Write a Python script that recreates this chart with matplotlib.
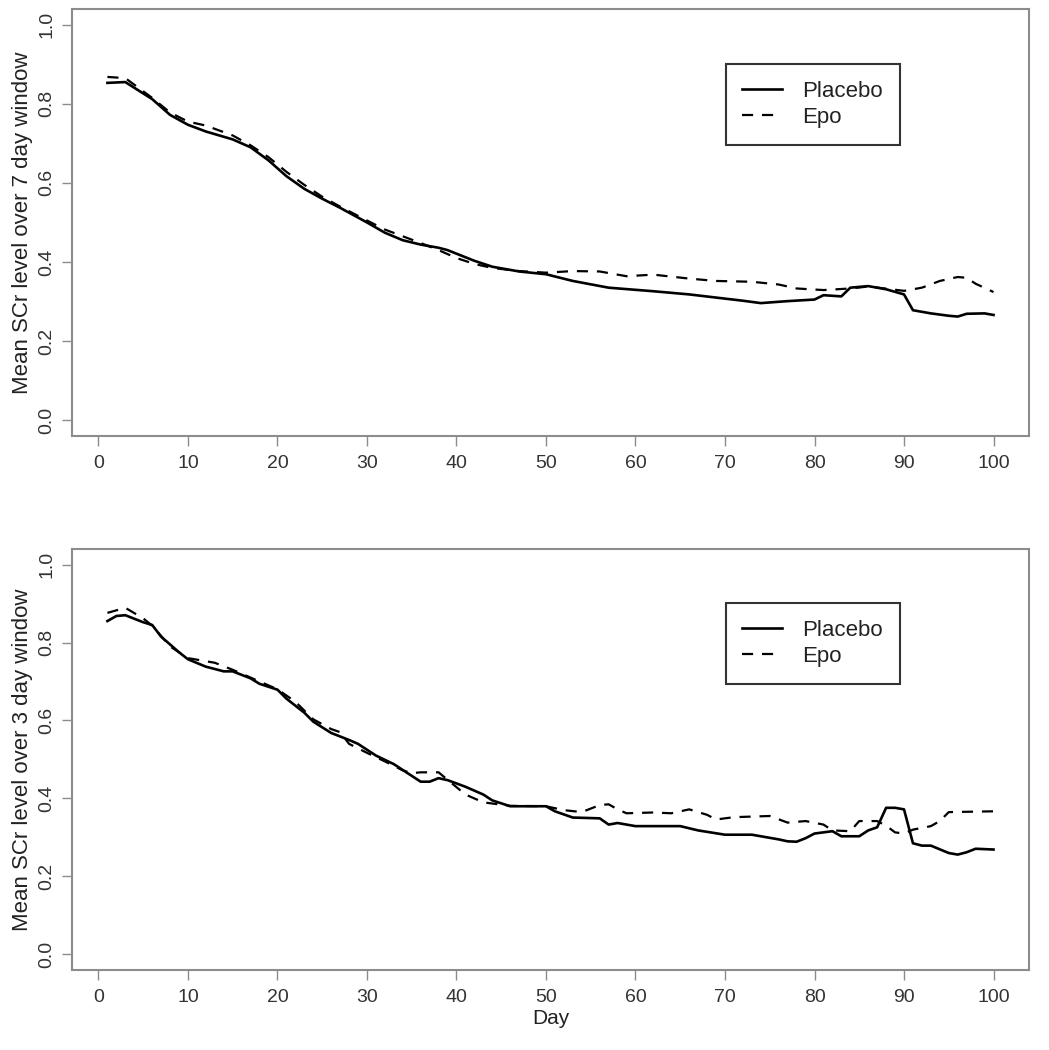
import numpy as np
import matplotlib
matplotlib.use("Agg")
import matplotlib.pyplot as plt

plt.rcParams['font.family'] = ['Liberation Sans', 'DejaVu Sans']

# Top panel: 7 day window (day, mean SCr)
placebo7_day = [1, 3, 6, 8, 10, 12, 15, 17, 19, 21, 23, 25, 27, 30, 32, 34, 36, 38, 39,
                42, 44, 47, 50, 53, 57, 62, 66, 69, 72, 74, 77, 80, 81, 83, 84, 86, 88,
                90, 91, 93, 95, 96, 97, 99, 100]
placebo7_val = [0.853, 0.855, 0.812, 0.772, 0.747, 0.730, 0.710, 0.690, 0.657, 0.617, 0.585,
                0.560, 0.537, 0.500, 0.474, 0.455, 0.444, 0.436, 0.430, 0.403, 0.388, 0.376,
                0.369, 0.352, 0.335, 0.326, 0.318, 0.310, 0.302, 0.296, 0.301, 0.305, 0.316,
                0.313, 0.335, 0.339, 0.331, 0.318, 0.278, 0.270, 0.264, 0.262, 0.269, 0.270,
                0.266]
epo7_day = [1, 3, 6, 8, 10, 12, 15, 17, 19, 21, 23, 25, 27, 30, 32, 34, 36, 38, 40, 42, 44,
            47, 50, 53, 56, 59, 62, 66, 69, 73, 76, 78, 81, 84, 86, 90, 92, 94, 96, 97, 98, 100]
epo7_val = [0.868, 0.865, 0.815, 0.778, 0.755, 0.745, 0.720, 0.695, 0.665, 0.628, 0.595,
            0.565, 0.540, 0.505, 0.482, 0.465, 0.448, 0.430, 0.410, 0.395, 0.385, 0.377,
            0.373, 0.377, 0.376, 0.364, 0.368, 0.358, 0.352, 0.350, 0.343, 0.333, 0.329,
            0.333, 0.338, 0.327, 0.335, 0.352, 0.362, 0.360, 0.345, 0.324]

# Bottom panel: 3 day window
placebo3_day = [1, 2, 3, 5, 6, 7, 9, 10, 12, 14, 15, 17, 18, 20, 21, 23, 24, 26, 28, 29, 31,
                33, 35, 36, 37, 38, 39, 41, 43, 44, 46, 50, 51, 53, 56, 57, 58, 60, 65, 67,
                70, 73, 75, 76, 77, 78, 79, 80, 82, 83, 85, 86, 87, 88, 89, 90, 91, 92, 93,
                95, 96, 97, 98, 100]
placebo3_val = [0.855, 0.868, 0.870, 0.852, 0.845, 0.815, 0.775, 0.757, 0.738, 0.726, 0.726,
                0.708, 0.694, 0.679, 0.656, 0.620, 0.597, 0.568, 0.550, 0.540, 0.510, 0.488,
                0.458, 0.443, 0.443, 0.452, 0.447, 0.430, 0.410, 0.395, 0.380, 0.380, 0.367,
                0.351, 0.349, 0.333, 0.337, 0.329, 0.329, 0.318, 0.307, 0.307, 0.299, 0.295,
                0.290, 0.289, 0.298, 0.310, 0.316, 0.303, 0.303, 0.318, 0.326, 0.376, 0.376,
                0.372, 0.285, 0.279, 0.279, 0.260, 0.256, 0.262, 0.271, 0.269]
epo3_day = [1, 3, 5, 6, 8, 10, 13, 15, 18, 20, 22, 24, 26, 27, 28, 30, 32, 34, 35, 36, 38,
            39, 41, 43, 46, 50, 52, 54, 56, 57, 58, 59, 62, 64, 66, 68, 69, 71, 75, 77, 79,
            81, 82, 84, 85, 87, 88, 89, 90, 91, 93, 94, 95, 100]
epo3_val = [0.876, 0.889, 0.862, 0.843, 0.790, 0.760, 0.748, 0.730, 0.700, 0.680, 0.648,
            0.603, 0.578, 0.570, 0.540, 0.517, 0.495, 0.472, 0.465, 0.467, 0.467, 0.448,
            0.410, 0.390, 0.381, 0.380, 0.370, 0.365, 0.383, 0.385, 0.372, 0.362, 0.364,
            0.362, 0.372, 0.358, 0.346, 0.352, 0.355, 0.338, 0.342, 0.333, 0.318, 0.316,
            0.342, 0.342, 0.330, 0.313, 0.310, 0.320, 0.329, 0.342, 0.365, 0.367]

xticks = np.arange(0, 101, 10)
yticks = [0.0, 0.2, 0.4, 0.6, 0.8, 1.0]
ytick_labels = ['0.0', '0.2', '0.4', '0.6', '0.8', '1.0']

fig = plt.figure(figsize=(10.49, 10.5), dpi=100)
ax1 = fig.add_axes([0.0686, 0.5848, 0.9123, 0.4067])
ax2 = fig.add_axes([0.0686, 0.0762, 0.9123, 0.4010])


def draw_panel(ax, p_day, p_val, e_day, e_val, ylabel, legend_top):
    ax.plot(p_day, p_val, color='black', lw=1.9, label='Placebo')
    ax.plot(e_day, e_val, color='black', lw=1.6, dashes=(5, 4), label='Epo')
    ax.set_xlim(-2.96, 103.96)
    ax.set_ylim(-0.04, 1.04)
    ax.set_xticks(xticks)
    ax.set_yticks(yticks)
    ax.set_yticklabels(ytick_labels, rotation=90, va='center')
    ax.tick_params(direction='out', length=7, width=1, color='#8c8c8c',
                   labelcolor='#333333', labelsize=14)
    ax.tick_params(axis='x', pad=7)
    ax.tick_params(axis='y', pad=5)
    for sp in ax.spines.values():
        sp.set_color('#8c8c8c')
        sp.set_linewidth(1.5)
    ax.set_ylabel(ylabel, fontsize=16, color='#222222', labelpad=4)
    leg = ax.legend(loc='upper left', bbox_to_anchor=(0.683, legend_top),
                    fancybox=False, framealpha=1, edgecolor='#333333',
                    fontsize=16, handlelength=1.8, handletextpad=0.9,
                    borderpad=0.75, labelspacing=0.25, borderaxespad=0)
    leg.get_frame().set_linewidth(1.5)
    for t in leg.get_texts():
        t.set_color('#222222')


draw_panel(ax1, placebo7_day, placebo7_val, epo7_day, epo7_val,
           'Mean SCr level over 7 day window', 0.871)
draw_panel(ax2, placebo3_day, placebo3_val, epo3_day, epo3_val,
           'Mean SCr level over 3 day window', 0.872)
ax2.set_xlabel('Day', fontsize=15, color='#222222', labelpad=2)

fig.savefig('out.png', dpi=100)
